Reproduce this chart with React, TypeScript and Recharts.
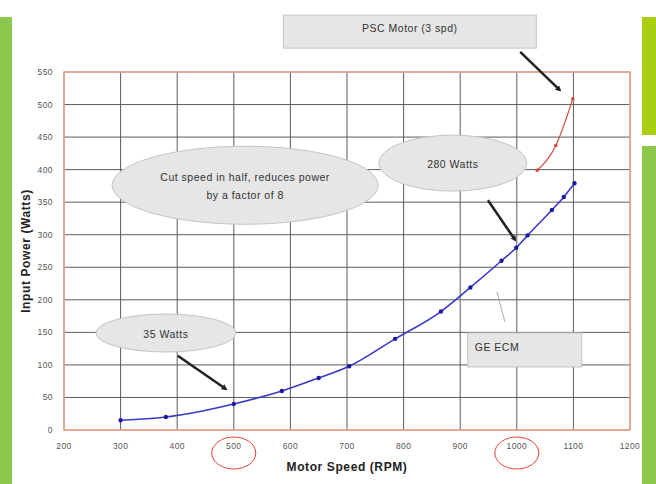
import React from "react";
import {
  LineChart,
  Line,
  XAxis,
  YAxis,
  CartesianGrid,
  ReferenceArea,
  ReferenceDot,
  ReferenceLine,
} from "recharts";

// GE ECM measured points (RPM, watts)
const ecmRpm = [300, 380, 500, 585, 650, 704, 785, 866, 918, 973, 999, 1019, 1062, 1083, 1102];
const ecmWatts = [15, 20, 40, 60, 80, 98, 140, 182, 219, 260, 280, 299, 338, 358, 379];

// PSC motor, 3 speeds
const pscRpm = [1036, 1069, 1099];
const pscWatts = [399, 437, 509];

const xTicks = [200, 300, 400, 500, 600, 700, 800, 900, 1000, 1100, 1200];
const yTicks = [0, 50, 100, 150, 200, 250, 300, 350, 400, 450, 500, 550];

const ecmData = ecmRpm.map((rpm, i) => ({ rpm, watts: ecmWatts[i] }));
const pscData = pscRpm.map((rpm, i) => ({ rpm, watts: pscWatts[i] }));

const FONT = "'Liberation Sans', Arial, sans-serif";
const BOX = "#e6e6e6";
const BOX_EDGE = "#c4c4c4";
const NOTE = { fontSize: 10.5, letterSpacing: 0.5, fill: "#333", fontFamily: FONT };

const ellipse = (rx: number, ry: number, lines: string[]) => (p: any) => (
  <g>
    <ellipse cx={p.cx} cy={p.cy} rx={rx} ry={ry} fill={BOX} stroke={BOX_EDGE} strokeWidth={1} />
    {lines.map((t, i) => (
      <text key={t} x={p.cx} y={p.cy + (i - (lines.length - 1) / 2) * 18 + 5} textAnchor="middle" {...NOTE}>
        {t}
      </text>
    ))}
  </g>
);

const box = (w: number, h: number, label: string, align: "middle" | "start") => (p: any) => (
  <g>
    <rect x={p.cx - w / 2} y={p.cy - h / 2} width={w} height={h} fill={BOX} stroke={BOX_EDGE} />
    <text
      x={align === "middle" ? p.cx : p.cx - w / 2 + 7}
      y={align === "middle" ? p.cy : p.cy + 1}
      textAnchor={align}
      {...NOTE}
    >
      {label}
    </text>
  </g>
);

const tickCircle = (p: any) => (
  <ellipse cx={p.cx} cy={p.cy + 23} rx={22} ry={16} fill="none" stroke="#e8403a" strokeWidth={1} />
);

const arrow = (color: string, width: number, head: boolean) => (p: any) => (
  <line
    x1={p.x1}
    y1={p.y1}
    x2={p.x2}
    y2={p.y2}
    stroke={color}
    strokeWidth={width}
    markerEnd={head ? "url(#arrowHead)" : undefined}
  />
);

const tickStyle = { fontSize: 8.5, letterSpacing: 0.4, fill: "#555", fontFamily: FONT };

export default function App() {
  return (
    <div style={{ position: "absolute", left: 0, top: 0, width: 656, height: 484, background: "#fff" }}>
      <div style={{ position: "absolute", left: 0, top: 17, width: 12, height: 467, background: "#8cc84b" }} />
      <div style={{ position: "absolute", left: 642, top: 17, width: 14, height: 118, background: "#a8cf12" }} />
      <div style={{ position: "absolute", left: 642, top: 146, width: 14, height: 338, background: "#8cc84b" }} />
      <div style={{ position: "absolute", left: 0, top: 0 }}>
        <LineChart width={656} height={484} margin={{ top: 72, right: 26, left: 14, bottom: 0 }}>
          <defs>
            <marker id="arrowHead" markerWidth="6" markerHeight="6" refX="4" refY="3" orient="auto" markerUnits="userSpaceOnUse">
              <path d="M0,0 L6,3 L0,6 z" fill="#222" />
            </marker>
          </defs>
          <CartesianGrid stroke="#5c5c5c" strokeWidth={1} />
          <XAxis
            dataKey="rpm"
            type="number"
            domain={[200, 1200]}
            ticks={xTicks}
            allowDataOverflow
            tickLine={false}
            axisLine={false}
            tick={tickStyle}
            tickMargin={7}
            height={54}
            label={{ value: "Motor Speed (RPM)", position: "insideBottom", offset: 13, fontSize: 12, letterSpacing: 0.6, fontWeight: 700, fill: "#222", fontFamily: FONT }}
          />
          <YAxis
            type="number"
            domain={[0, 550]}
            ticks={yTicks}
            allowDataOverflow
            tickLine={false}
            axisLine={false}
            width={50}
            tickMargin={5}
            tick={tickStyle}
            label={{ value: "Input Power (Watts)", angle: -90, position: "insideLeft", offset: 12, fontSize: 12, letterSpacing: 0.6, fontWeight: 700, fill: "#222", fontFamily: FONT, style: { textAnchor: "middle" } }}
          />
          <ReferenceArea x1={200} x2={1200} y1={0} y2={550} fill="none" stroke="#f7a78a" strokeWidth={1.5} />
          <Line
            data={ecmData}
            dataKey="watts"
            type="monotone"
            stroke="#3a3ac8"
            strokeWidth={1.6}
            dot={{ r: 1.4, fill: "#1c1c9a", stroke: "#1c1c9a" }}
            isAnimationActive={false}
          />
          <Line
            data={pscData}
            dataKey="watts"
            type="monotone"
            stroke="#d84a3e"
            strokeWidth={1.2}
            dot={{ r: 1.2, fill: "#d84a3e", stroke: "#d84a3e" }}
            isAnimationActive={false}
          />
          <ReferenceDot x={811} y={612} ifOverflow="visible" shape={box(253, 33, "PSC Motor (3 spd)", "middle")} />
          <ReferenceDot x={520} y={376} ifOverflow="visible" shape={ellipse(133, 39, ["Cut speed in half, reduces power", "by a factor of 8"])} />
          <ReferenceDot x={887} y={410} ifOverflow="visible" shape={ellipse(74, 28, ["280 Watts"])} />
          <ReferenceDot x={380} y={149} ifOverflow="visible" shape={ellipse(70, 19, ["35 Watts"])} />
          <ReferenceDot x={1014} y={123} ifOverflow="visible" shape={box(114, 34, "GE ECM", "start")} />
          <ReferenceLine segment={[{ x: 1006, y: 581 }, { x: 1076, y: 522 }]} ifOverflow="visible" shape={arrow("#222", 2.5, true)} />
          <ReferenceLine segment={[{ x: 949, y: 353 }, { x: 997, y: 292 }]} ifOverflow="visible" shape={arrow("#222", 2.5, true)} />
          <ReferenceLine segment={[{ x: 401, y: 114 }, { x: 486, y: 63 }]} ifOverflow="visible" shape={arrow("#222", 2.5, true)} />
          <ReferenceLine segment={[{ x: 965, y: 212 }, { x: 979, y: 166 }]} ifOverflow="visible" shape={arrow("#999", 0.8, false)} />
          <ReferenceDot x={500} y={0} ifOverflow="visible" shape={tickCircle} />
          <ReferenceDot x={1000} y={0} ifOverflow="visible" shape={tickCircle} />
        </LineChart>
      </div>
    </div>
  );
}
